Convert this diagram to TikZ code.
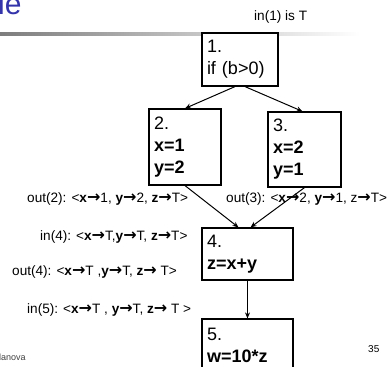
\documentclass[tikz,border=0pt]{standalone}
\usepackage{fontspec}
\setmainfont{Liberation Sans}
\newfontfamily\pfeilfont{DejaVu Sans}
\usepackage{xcolor}
\usetikzlibrary{arrows.meta}
\definecolor{TitelBlau}{RGB}{51,51,170}
\definecolor{LinieGrau}{RGB}{125,125,125}
\newcommand{\pf}{{\pfeilfont\bfseries\fontsize{16}{16}\selectfont →}}
\begin{document}
\begin{tikzpicture}[x=1pt,y=-1pt,>={Stealth[length=6pt,width=5pt]},
  blk/.style={draw,fill=white,line width=1.2pt,align=left,inner xsep=5pt,
    inner ysep=2pt,font=\fontsize{18}{22}\selectfont},
  lbl/.style={anchor=base west,inner sep=0pt,font=\fontsize{13.6}{16}\selectfont}]
  \path[use as bounding box,clip] (0,0) rectangle (390,366);
  % title rest and rule
  \node[anchor=base west,inner sep=0pt,text=TitelBlau,font=\fontsize{30}{30}\selectfont] (titel) at (-2,15) {le};
  \shade[left color=LinieGrau,right color=white] (0,33) rectangle (360,35.5);
  % blocks
  \node[blk,text width=66pt,minimum height=53pt] (n1) at (240,59.5) {1.\\if (b>0)};
  \node[blk,text width=62pt,minimum height=76pt] (n2) at (185,147) {2.\\\textbf{x=1}\\\textbf{y=2}};
  \node[blk,text width=63pt,minimum height=75pt] (n3) at (304.5,149.5) {3.\\\textbf{x=2}\\\textbf{y=1}};
  \node[blk,text width=81pt,minimum height=52pt] (n4) at (247.5,254) {4.\\\textbf{z=x+y}};
  \node[blk,text width=81pt,minimum height=53pt] (n5) at (247.5,345.5) {5.\\\textbf{w=10*z}};
  % edges
  \draw[->,line width=1pt] ([xshift=-5pt]n1.south) -- (n2.north);
  \draw[->,line width=1pt] ([xshift=5pt]n1.south) -- ([xshift=-2pt]n3.north);
  \draw[->,line width=1pt] (n2.south) -- ([xshift=-9pt]n4.north);
  \draw[->,line width=1pt] (n3.south) -- ([xshift=3pt]n4.north);
  \draw[->,line width=1pt] (n4.south) -- (n5.north);
  % facts
  \node[lbl] (in1) at (254,21) {in(1) is T};
  \node[lbl] (out2) at (27,202) {out(2): <\textbf{x}\pf1, \textbf{y}\pf2, \textbf{z}\pf T>};
  \node[lbl] (out3) at (226,202) {out(3): <\textbf{x}\pf2, \textbf{y}\pf1, z\pf T>};
  \node[lbl] (in4) at (40,240) {in(4): <\textbf{x}\pf T,\textbf{y}\pf T, \textbf{z}\pf T>};
  \node[lbl] (out4) at (12,275) {out(4): <\textbf{x}\pf T ,\textbf{y}\pf T, \textbf{z}\pf\ T>};
  \node[lbl] (in5) at (27,313) {in(5): <\textbf{x}\pf T , \textbf{y}\pf T, \textbf{z}\pf\ T >};
  % footer
  \node[anchor=base west,inner sep=0pt,text=black!75,font=\fontsize{9}{9}\selectfont] (fuss) at (-1,360) {lanova};
  \node[anchor=base west,inner sep=0pt,font=\fontsize{10}{10}\selectfont] (seite) at (368,352) {35};
\end{tikzpicture}
\end{document}
